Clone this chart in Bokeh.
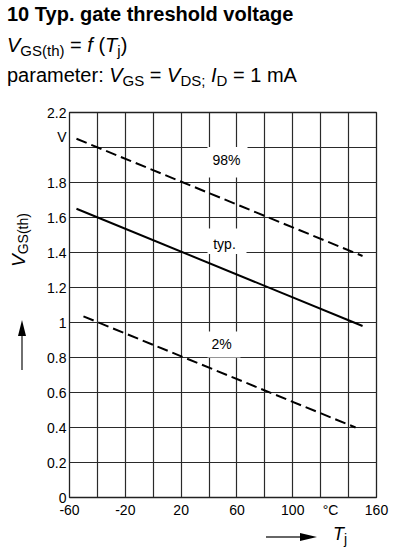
from bokeh.plotting import figure
from bokeh.models import Range1d, Label, Div
from bokeh.layouts import column, row
from bokeh.embed import file_html
from bokeh.resources import INLINE

# ---------------- data ----------------
tj_98 = [-55, 150]
vgs_98 = [2.05, 1.38]
tj_typ = [-55, 150]
vgs_typ = [1.65, 0.98]
tj_2 = [-50, 145]
vgs_2 = [1.035, 0.40]

x_ticks = [-60, -40, -20, 0, 20, 40, 60, 80, 100, 120, 140, 160]
x_tick_labels = ["-60", "", "-20", "", "20", "", "60", "", "100", "", "", "160"]
y_ticks = [0, 0.2, 0.4, 0.6, 0.8, 1.0, 1.2, 1.4, 1.6, 1.8, 2.0, 2.2]
y_tick_labels = ["0", "0.2", "0.4", "0.6", "0.8", "1", "1.2", "1.4", "1.6", "1.8", "", "2.2"]
x_unit = "°C"
y_unit = "V"
curve_names = ["98%", "typ.", "2%"]

# ---------------- layout (pixels of the 393x552 page) ----------------
W, H = 393, 552
L, R, T, B = 69, 376, 112, 497          # plot frame
LEFT_W = 40                              # strip for y title
HEAD_H = 102                             # header height
FIG_TOP_PAD = T - HEAD_H                 # 10
FIG_BOT_PAD = 28
FIG_H = FIG_TOP_PAD + (B - T) + FIG_BOT_PAD
BOT_H = H - HEAD_H - FIG_H
X0, X1, Y0, Y1 = -60, 160, 0, 2.2
FONT = "Liberation Sans"
CSS_FONT = "font-family:'Liberation Sans',Arial,sans-serif;color:#000;"


def dx(px):
    return X0 + (px - L) * (X1 - X0) / (R - L)


def dy(py):
    return Y0 + (B - py) * (Y1 - Y0) / (B - T)


p = figure(width=W - LEFT_W, height=FIG_H, x_range=Range1d(X0, X1), y_range=Range1d(Y0, Y1),
           output_backend="svg", toolbar_location=None,
           min_border_left=L - LEFT_W, min_border_right=W - R,
           min_border_top=FIG_TOP_PAD, min_border_bottom=FIG_BOT_PAD, margin=0)
p.background_fill_color = "white"
p.border_fill_color = "white"
p.outline_line_color = "#222222"
p.outline_line_width = 1.3

for g, ticks in ((p.xgrid, x_ticks), (p.ygrid, y_ticks)):
    g.ticker = ticks
    g.grid_line_color = "#2a2a2a"
    g.grid_line_width = 1.2
    g.grid_line_alpha = 1.0

for ax in (p.xaxis, p.yaxis):
    ax.axis_line_color = None
    ax.major_tick_line_color = None
    ax.minor_tick_line_color = None
    ax.major_tick_out = 0
    ax.major_tick_in = 0
    ax.minor_tick_out = 0
    ax.minor_tick_in = 0
    ax.major_label_text_font = FONT
    ax.major_label_text_font_size = "14px"
    ax.major_label_text_color = "black"

# unit labels placed as extra (grid-less) ticks
x_unit_at = dx(330)
y_unit_at = dy(136)
p.xaxis.ticker = x_ticks + [x_unit_at]
xo = dict(zip(x_ticks, x_tick_labels))
xo[x_unit_at] = x_unit
p.xaxis.major_label_overrides = xo
p.xaxis.major_label_standoff = 4
p.yaxis.ticker = y_ticks + [y_unit_at]
yo = dict(zip(y_ticks, y_tick_labels))
yo[y_unit_at] = y_unit
p.yaxis.major_label_overrides = yo
p.yaxis.major_label_standoff = 3

# white boxes behind curve labels (hide grid)
p.quad(left=[dx(207), dx(207), dx(207)], right=[dx(247), dx(246), dx(240)],
       top=[dy(146.5), dy(228), dy(331)], bottom=[dy(177), dy(253.5), dy(357)],
       fill_color="white", line_color=None)

# curves
p.line(tj_98, vgs_98, line_color="black", line_width=2, line_dash="11 5")
p.line(tj_typ, vgs_typ, line_color="black", line_width=2)
p.line(tj_2, vgs_2, line_color="black", line_width=2, line_dash="11 5")

for (px, py), name in zip([(226, 159), (224, 243), (221, 343)], curve_names):
    p.add_layout(Label(x=dx(px), y=dy(py), text=name, text_font=FONT, text_font_size="14px",
                       text_color="black", text_align="center", text_baseline="middle"))

# ---------------- HTML parts ----------------
BASE = 0.8465   # baseline offset (em) for line-height 1 in Liberation Sans


def sub(s, size=15, drop=3.5):
    return f'<span style="font-size:{size}px;position:relative;top:{drop}px">{s}</span>'


def line(left, baseline, size, inner, extra=""):
    top = baseline - BASE * size
    return (f'<div style="position:absolute;left:{left}px;top:{top:.1f}px;font-size:{size}px;'
            f'line-height:1;white-space:pre;{CSS_FONT}{extra}">{inner}</div>')


head_html = (
    f'<div style="position:relative;width:{W}px;height:{HEAD_H}px;">'
    + line(7, 21, 20, "10 Typ. gate threshold voltage", "font-weight:bold;")
    + line(7, 52, 20, "<i>V</i>" + sub("GS(th)") + " = <i>f</i> (<i>T</i>" + sub("j") + ")")
    + line(7, 82, 20, "parameter: <i>V</i>" + sub("GS") + " = <i>V</i>" + sub("DS;")
           + " <i>I</i>" + sub("D") + " = 1 mA")
    + "</div>"
)
header = Div(text=head_html, width=W, height=HEAD_H, margin=0)

oy = HEAD_H  # page y offset of the left strip
left_html = (
    f'<div style="position:relative;width:{LEFT_W}px;height:{FIG_H}px;">'
    f'<div style="position:absolute;left:9px;top:{267 - oy}px;transform-origin:0 0;'
    f'transform:rotate(-90deg);font-size:19px;line-height:1;white-space:pre;{CSS_FONT}">'
    f'<i>V</i>{sub("GS(th)", 14, 3)}</div>'
    f'<svg style="position:absolute;left:0;top:0" width="{LEFT_W}" height="{FIG_H}">'
    f'<line x1="22" y1="{370 - oy}" x2="22" y2="{334 - oy}" stroke="#333" stroke-width="1.4"/>'
    f'<polygon points="22,{320 - oy} 18,{336 - oy} 26,{336 - oy}" fill="#000"/></svg>'
    '</div>'
)
left_strip = Div(text=left_html, width=LEFT_W, height=FIG_H, margin=0)

by = HEAD_H + FIG_H  # page y offset of the bottom strip
bottom_html = (
    f'<div style="position:relative;width:{W}px;height:{BOT_H}px;overflow:visible;">'
    f'<svg style="position:absolute;left:0;top:0;overflow:visible" width="{W}" height="{BOT_H}">'
    f'<line x1="266" y1="{537 - by}" x2="302" y2="{537 - by}" stroke="#333" stroke-width="1.4"/>'
    f'<polygon points="317,{537 - by} 300,{533 - by} 300,{541 - by}" fill="#000"/></svg>'
    + line(333, 540 - by, 18, "<i>T</i>" + sub("j", 14, 4))
    + '</div>'
)
bottom = Div(text=bottom_html, width=W, height=BOT_H, margin=0)

layout = column(header, row(left_strip, p, margin=0, spacing=0), bottom, margin=0, spacing=0)

open("out.html", "w").write(file_html(layout, INLINE))
